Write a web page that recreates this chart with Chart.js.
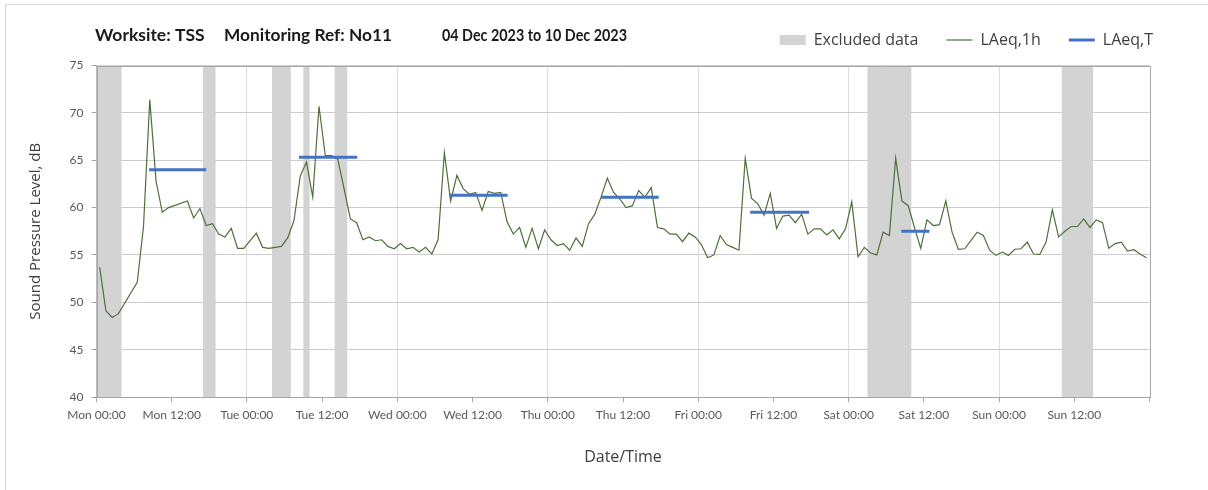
<!DOCTYPE html>
<html><head><meta charset="utf-8">
<script src="https://cdn.jsdelivr.net/npm/chart.js@4/dist/chart.umd.min.js"></script>
<style>html,body{margin:0;padding:0;background:#fff}#wrap{width:1208px;height:490px;position:relative}</style>
</head><body><div id="wrap"><canvas id="c"></canvas></div>
<script>
// ---- data ----
const dayNames = ['Mon','Tue','Wed','Thu','Fri','Sat','Sun'];
const titleParts = ['Worksite: TSS', 'Monitoring Ref: No11', '04 Dec 2023 to 10 Dec 2023'];
// hour index from Mon 00:00 (each LAeq,1h value covers one hour)
const hourIndex = [0,1,2,3,6,7,8,9,10,11,14,15,16,17,18,19,20,21,22,23,
  25,26,27,29,30,31,32,33,34,35,36,37,38,39,40,41,42,43,44,45,46,47,
  48,49,50,51,52,53,54,55,56,57,58,59,60,61,62,63,64,65,66,67,68,69,70,71,
  72,73,74,75,76,77,78,79,80,81,82,83,84,85,86,87,88,89,90,91,92,93,94,95,
  96,97,98,99,100,101,102,103,104,105,106,107,108,109,110,111,112,113,114,115,116,117,118,119,
  120,121,122,123,124,125,126,127,128,129,130,131,132,133,134,135,136,137,138,139,140,141,142,143,
  144,145,146,147,148,149,150,151,152,153,154,155,156,157,158,159,160,161,162,163,164,165,166,167];
const laeq1h = [53.7,49.1,48.4,48.8,52.1,58.0,71.4,62.8,59.5,60.0,60.7,58.9,59.9,58.1,58.3,57.2,56.9,57.8,55.7,55.7,
  57.3,55.8,55.7,55.9,56.8,58.6,63.3,64.8,61.1,70.7,65.5,65.5,65.1,62.0,58.8,58.4,56.6,56.9,56.5,56.6,55.9,55.65,
  56.2,55.65,55.8,55.3,55.8,55.1,56.6,65.8,60.7,63.4,62.0,61.4,61.6,59.7,61.7,61.5,61.6,58.5,57.2,57.9,55.8,57.8,55.65,57.65,
  56.6,56.0,56.2,55.5,56.8,55.9,58.3,59.3,61.1,63.1,61.6,60.9,60.0,60.2,61.8,61.1,62.1,57.9,57.75,57.2,57.2,56.4,57.3,56.9,
  56.1,54.7,55.0,57.05,56.1,55.8,55.5,65.2,61.0,60.4,59.2,61.5,57.8,59.1,59.2,58.4,59.3,57.2,57.75,57.75,57.1,57.65,56.7,57.75,
  60.6,54.8,55.8,55.2,55.0,57.4,57.05,65.2,60.7,60.2,57.9,55.7,58.7,58.1,58.2,60.7,57.4,55.6,55.65,56.5,57.4,57.05,55.5,54.95,
  55.3,54.95,55.6,55.65,56.35,55.1,55.05,56.35,59.75,56.9,57.5,58.0,58.0,58.8,57.9,58.7,58.4,55.7,56.2,56.35,55.4,55.55,55.1,54.7];
// LAeq,T periods (hours from Mon 00:00) and levels
const periodStart = [8.4, 32.3, 56.3, 80.5, 104.3, 128.4];
const periodEnd   = [17.5, 41.6, 65.6, 89.7, 113.7, 132.9];
const laeqT       = [64.0, 65.3, 61.3, 61.1, 59.5, 57.5];
// excluded data periods (hours from Mon 00:00)
const excludedStart = [0, 17, 28, 33, 38, 123, 154];
const excludedEnd   = [4, 19, 31, 34, 40, 130, 159];
const yTicks = [40,45,50,55,60,65,70,75];

// ---- styles ----
const GREEN = '#4f6f3a', BLUE = '#4472C4', BAND = '#d3d3d3', AXIS = '#a6a6a6';

const lineData = hourIndex.map((h, i) => ({x: h + 0.5, y: laeq1h[i]}));
const tData = [];
periodStart.forEach((s, i) => {
  tData.push({x: s, y: laeqT[i]}, {x: periodEnd[i], y: laeqT[i]});
  if (i < periodStart.length - 1) tData.push({x: (periodEnd[i] + periodStart[i+1]) / 2, y: null});
});

const framePlugin = {
  id: 'frame',
  beforeDraw(chart) {
    const ctx = chart.ctx;
    ctx.save();
    ctx.fillStyle = '#fff'; ctx.fillRect(0, 0, chart.width, chart.height);
    ctx.strokeStyle = '#d9d9d9'; ctx.lineWidth = 1;
    ctx.strokeRect(5.5, 4.5, chart.width + 10, chart.height + 10);
    ctx.restore();
  },
  afterLayout(chart) {
    const lg = chart.legend;
    if (lg) { const h = lg.bottom - lg.top; lg.top = 4; lg.bottom = 4 + h; lg.right = 1181; }
  },
  afterDraw(chart) {
    const ctx = chart.ctx;
    ctx.save();
    ctx.font = 'bold 17.5px Lato';
    ctx.fillStyle = '#1a1a1a';
    ctx.textBaseline = 'alphabetic';
    const xs = [95, 224, 442], ws = [113, 168, 185];
    titleParts.forEach((t, i) => ctx.fillText(t, xs[i], 41, ws[i]));
    ctx.restore();
  }
};

const bandPlugin = {
  id: 'bands',
  beforeDatasetsDraw(chart) {
    const {ctx, chartArea: a, scales: {x}} = chart;
    ctx.save();
    ctx.fillStyle = BAND;
    excludedStart.forEach((s, i) => {
      const x1 = x.getPixelForValue(s), x2 = x.getPixelForValue(excludedEnd[i]);
      ctx.fillRect(x1, a.top, x2 - x1, a.bottom - a.top);
    });
    ctx.strokeStyle = AXIS; ctx.lineWidth = 1;
    ctx.strokeRect(Math.round(a.left) + 0.5, Math.round(a.top) + 0.5, Math.round(a.right) - Math.round(a.left), Math.round(a.bottom) - Math.round(a.top));
    ctx.restore();
  }
};

new Chart(document.getElementById('c'), {
  type: 'line',
  data: {
    datasets: [
      {label: 'LAeq,T', data: tData, borderColor: BLUE, borderWidth: 3, pointRadius: 0, spanGaps: false, borderCapStyle: 'butt', order: 0},
      {label: 'LAeq,1h', data: lineData, borderColor: GREEN, borderWidth: 1.2, pointRadius: 0, tension: 0, order: 1}
    ]
  },
  options: {
    responsive: true, maintainAspectRatio: false, animation: false,
    layout: {padding: {top: 11.5, left: 0, right: 58.5, bottom: 0}},
    plugins: {
      tooltip: {enabled: false},
      legend: {
        position: 'top', align: 'end',
        labels: {
          usePointStyle: true, pointStyleWidth: 26, boxHeight: 10, padding: 28,
          font: {family: 'Open Sans', size: 16}, color: '#404040',
          generateLabels: () => [
            {text: 'Excluded data', fillStyle: BAND, strokeStyle: BAND, lineWidth: 0, pointStyle: 'rect', fontColor: '#404040'},
            {text: 'LAeq,1h', fillStyle: GREEN, strokeStyle: GREEN, lineWidth: 1.2, pointStyle: 'line', fontColor: '#404040'},
            {text: 'LAeq,T', fillStyle: BLUE, strokeStyle: BLUE, lineWidth: 3, pointStyle: 'line', fontColor: '#404040'}
          ]
        }
      }
    },
    scales: {
      x: {
        type: 'linear', min: 0, max: 168,
        ticks: {
          stepSize: 12, autoSkip: false, maxRotation: 0, minRotation: 0,
          font: {family: 'Lato', size: 12}, color: '#595959', padding: 6,
          callback: v => v >= 168 ? '' : dayNames[Math.floor(v / 24)] + ' ' + (v % 24 === 0 ? '00:00' : '12:00')
        },
        grid: {
          color: c => (c.tick && c.tick.value % 24 === 0 && c.tick.value > 0 && c.tick.value < 168) ? '#dedede' : 'rgba(0,0,0,0)',
          tickColor: AXIS, tickLength: 5
        },
        border: {color: AXIS},
        title: {display: true, text: 'Date/Time', font: {family: 'Open Sans', size: 16}, color: '#404040', padding: {top: 0, bottom: 23}},
        afterFit: s => { s.height = 93; }
      },
      y: {
        min: 40, max: 75,
        afterBuildTicks: s => { s.ticks = yTicks.map(v => ({value: v})); },
        ticks: {font: {family: 'Lato', size: 12}, color: '#595959', padding: 8},
        grid: {color: '#cccccc', tickColor: AXIS, tickLength: 5},
        border: {color: AXIS},
        title: {display: true, text: 'Sound Pressure Level, dB', font: {family: 'Open Sans', size: 15}, color: '#404040', padding: {top: 27, bottom: 0}},
        afterFit: s => { s.width = 96.5; }
      }
    }
  },
  plugins: [framePlugin, bandPlugin]
});
</script></body></html>
